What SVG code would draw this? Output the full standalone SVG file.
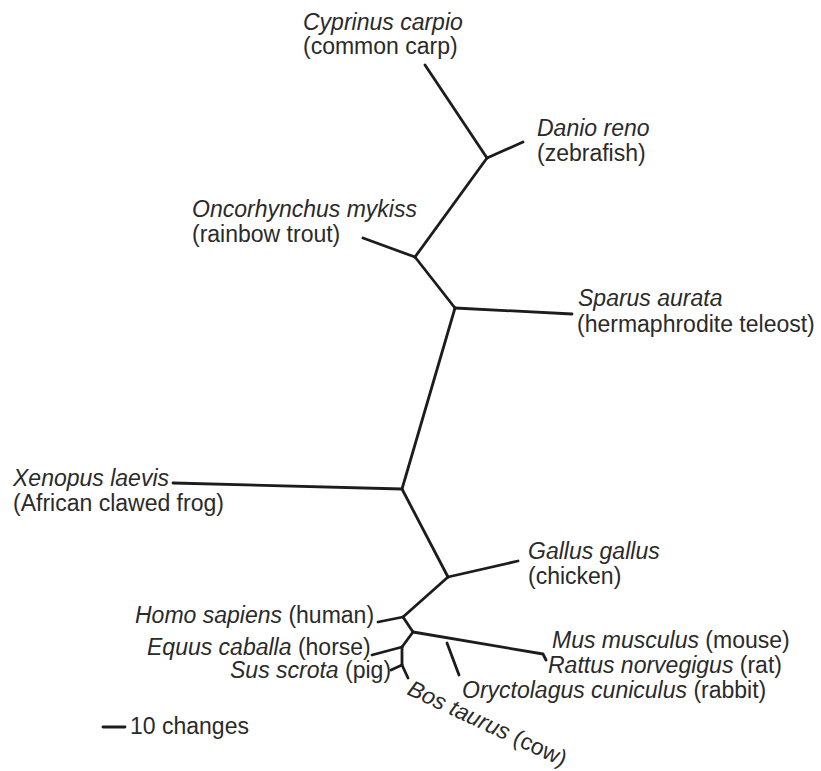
<svg xmlns="http://www.w3.org/2000/svg" width="821" height="771" viewBox="0 0 821 771">
<style>
.t{font-family:"Liberation Sans",Arial,Helvetica,sans-serif;font-size:23px;fill:#2a2a2a}
.i{font-style:italic}
.br{fill:none;stroke:#1c1c1c;stroke-width:2.8;stroke-linecap:round;stroke-linejoin:round}
</style>
<rect width="821" height="771" fill="#ffffff"/>
<g id="connectors" class="br">
<path d="M425,65 L487,158"/>
<path d="M487,158 L523,142"/>
<path d="M487,158 L415,257"/>
<path d="M415,257 L363,238"/>
<path d="M415,257 L455,308"/>
<path d="M455,308 L572,314"/>
<path d="M455,308 L402,489"/>
<path d="M402,489 L173,483"/>
<path d="M402,489 L448,577"/>
<path d="M448,577 L518,561"/>
<path d="M448,577 L403,617"/>
<path d="M403,617 L378,622"/>
<path d="M403,617 L413,632"/>
<path d="M413,632 L543,654 L546,660"/>
<path d="M447,643 L459,675"/>
<path d="M413,632 L402,647"/>
<path d="M402,647 L372,655"/>
<path d="M402,647 L402,665"/>
<path d="M402,665 L391,670"/>
<path d="M402,665 L408,678"/>
<path d="M103,727 L125,727"/>
</g>
<g id="cyprinus">
<text class="t i" x="303" y="30">Cyprinus carpio</text>
<text class="t" x="303" y="54">(common carp)</text>
</g>
<g id="danio">
<text class="t i" x="537" y="136">Danio reno</text>
<text class="t" x="537" y="161">(zebrafish)</text>
</g>
<g id="oncorhynchus">
<text class="t i" x="192" y="217">Oncorhynchus mykiss</text>
<text class="t" x="192" y="242">(rainbow trout)</text>
</g>
<g id="sparus">
<text class="t i" x="578" y="306">Sparus aurata</text>
<text class="t" x="577" y="332">(hermaphrodite teleost)</text>
</g>
<g id="xenopus">
<text class="t i" x="13" y="486">Xenopus laevis</text>
<text class="t" x="13" y="511">(African clawed frog)</text>
</g>
<g id="gallus">
<text class="t i" x="528" y="559">Gallus gallus</text>
<text class="t" x="528" y="584">(chicken)</text>
</g>
<g id="homo">
<text class="t" x="135" y="623"><tspan class="i">Homo sapiens</tspan> (human)</text>
</g>
<g id="equus">
<text class="t" x="147" y="655"><tspan class="i">Equus caballa</tspan> (horse)</text>
</g>
<g id="sus">
<text class="t" x="230" y="678"><tspan class="i">Sus scrota</tspan> (pig)</text>
</g>
<g id="bos">
<text class="t" x="0" y="0" font-size="22" transform="translate(406,694) rotate(25)"><tspan class="i">Bos taurus</tspan> (cow)</text>
</g>
<g id="mus">
<text class="t" x="552" y="648"><tspan class="i">Mus musculus</tspan> (mouse)</text>
</g>
<g id="rattus">
<text class="t" x="548" y="673"><tspan class="i">Rattus norvegigus</tspan> (rat)</text>
</g>
<g id="oryctolagus">
<text class="t" x="462" y="698"><tspan class="i">Oryctolagus cuniculus</tspan> (rabbit)</text>
</g>
<g id="scale">
<text class="t" x="130" y="734">10 changes</text>
</g>
</svg>
